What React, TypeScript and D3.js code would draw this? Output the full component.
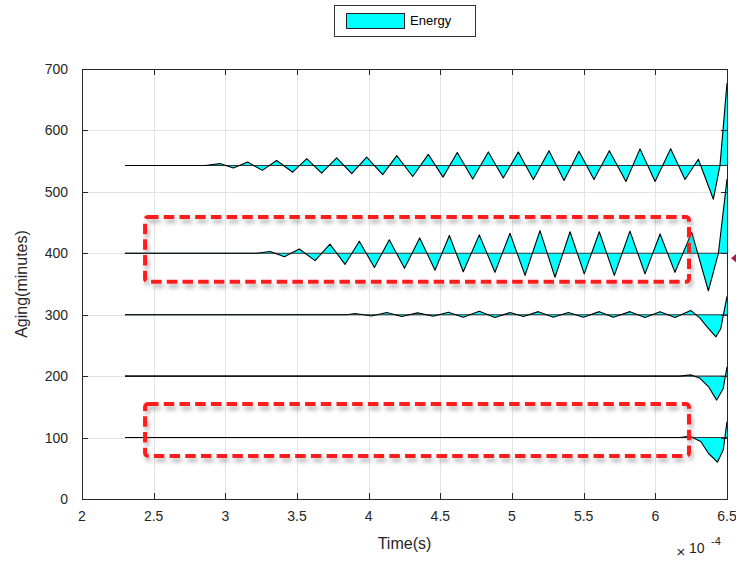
import React, { useEffect, useRef } from "react";
import * as d3 from "d3";

// axis ticks (time in units of 1e-4 s)
const xTicks = [2, 2.5, 3, 3.5, 4, 4.5, 5, 5.5, 6, 6.5];
const yTicks = [0, 100, 200, 300, 400, 500, 600, 700];

// each trace: [time, aging] vertices
const energy543: [number, number][] = [
  [2.3, 543], [2.86, 543], [2.963, 546], [3.056, 539], [3.156, 548.5], [3.258, 535],
  [3.358, 551], [3.47, 532], [3.568, 554], [3.672, 530.5], [3.777, 555.5], [3.882, 529.5],
  [3.986, 556.5], [4.098, 528], [4.196, 559], [4.307, 525], [4.416, 561], [4.519, 524],
  [4.618, 564], [4.726, 521], [4.835, 565], [4.939, 522.5], [5.044, 565], [5.149, 520],
  [5.258, 567], [5.363, 518.5], [5.467, 566], [5.572, 520], [5.679, 567], [5.795, 517],
  [5.893, 570], [5.998, 517], [6.107, 570], [6.207, 520], [6.3, 553], [6.405, 488],
  [6.451, 543], [6.5, 677],
];
const energy400: [number, number][] = [
  [2.3, 400], [3.219, 400], [3.312, 403], [3.412, 394.5], [3.516, 407], [3.626, 388],
  [3.73, 415], [3.835, 382], [3.935, 419.5], [4.04, 377], [4.144, 422], [4.25, 375.5],
  [4.356, 425], [4.463, 372.5], [4.563, 429], [4.66, 370], [4.772, 430], [4.881, 369],
  [4.986, 432.5], [5.091, 364], [5.195, 437], [5.3, 361], [5.405, 435], [5.504, 366.5],
  [5.609, 435], [5.714, 364], [5.823, 436], [5.928, 366.5], [6.033, 431.5], [6.137, 369],
  [6.254, 434], [6.37, 339], [6.44, 400], [6.5, 521],
];
const energy300: [number, number][] = [
  [2.3, 300], [3.847, 300], [3.905, 302], [4.021, 298], [4.126, 303.5], [4.231, 297],
  [4.341, 303], [4.451, 297.5], [4.556, 304], [4.66, 296], [4.772, 305.5], [4.881, 295.5],
  [4.986, 303.5], [5.079, 297], [5.184, 305], [5.288, 296], [5.393, 303.5], [5.498, 296],
  [5.609, 305], [5.707, 296], [5.823, 305], [5.928, 295.5], [6.033, 305], [6.137, 295.5],
  [6.247, 307], [6.312, 294.5], [6.358, 281], [6.423, 264], [6.456, 277], [6.5, 330],
];
const energy200: [number, number][] = [
  [2.3, 200], [6.17, 200], [6.25, 202], [6.312, 196.5], [6.37, 183], [6.428, 161],
  [6.474, 180], [6.5, 215],
];
const energy100: [number, number][] = [
  [2.3, 100], [6.17, 100], [6.24, 102], [6.317, 93.5], [6.37, 74.5], [6.433, 60],
  [6.474, 80], [6.5, 126],
];
const baselines = [543, 400, 300, 200, 100];

// red dashed highlight boxes: [t0, t1, top, bottom]
const highlights: [number, number, number, number][] = [
  [2.44, 6.235, 459, 353.5],
  [2.44, 6.235, 154.5, 70],
];

const W = 736;
const H = 563;
const margin = { top: 69, right: 9, bottom: 64, left: 82 };
const FONT = "'Liberation Sans', Arial, Helvetica, sans-serif";

const EnergyChart = () => {
  const ref = useRef<SVGSVGElement>(null);

  useEffect(() => {
    const svg = d3.select(ref.current);
    svg.selectAll("*").remove();

    const x = d3.scaleLinear().domain([2, 6.5]).range([margin.left, W - margin.right]);
    const y = d3.scaleLinear().domain([0, 700]).range([H - margin.bottom, margin.top]);
    const [x0, x1] = x.range();
    const [y0, y1] = y.range();

    const defs = svg.append("defs");
    const f = defs.append("filter").attr("id", "shadow").attr("x", "-5%").attr("y", "-20%").attr("width", "115%").attr("height", "160%");
    f.append("feDropShadow").attr("dx", 2).attr("dy", 4).attr("stdDeviation", 2.2)
      .attr("flood-color", "#777").attr("flood-opacity", 0.55);

    // grid
    const grid = svg.append("g").attr("stroke", "#e3e3e3").attr("stroke-width", 1);
    grid.selectAll(".gx").data(xTicks.slice(1, -1)).join("line")
      .attr("x1", (d) => Math.round(x(d)) + 0.5).attr("x2", (d) => Math.round(x(d)) + 0.5)
      .attr("y1", y1).attr("y2", y0);
    grid.selectAll(".gy").data(yTicks.slice(1, -1)).join("line")
      .attr("y1", (d) => Math.round(y(d)) + 0.5).attr("y2", (d) => Math.round(y(d)) + 0.5)
      .attr("x1", x0).attr("x2", x1);

    // traces
    const traces = [energy543, energy400, energy300, energy200, energy100];
    const g = svg.append("g");
    traces.forEach((pts, i) => {
      const base = baselines[i];
      const area = d3.area<[number, number]>()
        .x((d) => x(d[0])).y0(y(base)).y1((d) => y(d[1]));
      const line = d3.line<[number, number]>().x((d) => x(d[0])).y((d) => y(d[1]));
      g.append("path").attr("d", area(pts)).attr("fill", "#00ffff").attr("stroke", "none");
      g.append("line")
        .attr("x1", x(pts[0][0])).attr("x2", x(pts[pts.length - 1][0]))
        .attr("y1", y(base)).attr("y2", y(base))
        .attr("stroke", "#2b3b3b").attr("stroke-width", 1.1);
      g.append("path").attr("d", line(pts)).attr("fill", "none")
        .attr("stroke", "#000").attr("stroke-width", 1.1).attr("stroke-linejoin", "round");
    });

    // box and ticks
    const ax = svg.append("g").attr("stroke", "#262626").attr("stroke-width", 1);
    ax.append("rect").attr("x", x0 + 0.5).attr("y", y1 + 0.5)
      .attr("width", x1 - x0).attr("height", y0 - y1).attr("fill", "none");
    ax.selectAll(".tx").data(xTicks).join("g").each(function (d) {
      const xx = Math.round(x(d)) + 0.5;
      d3.select(this).append("line").attr("x1", xx).attr("x2", xx).attr("y1", y0).attr("y2", y0 - 6);
      d3.select(this).append("line").attr("x1", xx).attr("x2", xx).attr("y1", y1).attr("y2", y1 + 6);
    });
    ax.selectAll(".ty").data(yTicks).join("g").each(function (d) {
      const yy = Math.round(y(d)) + 0.5;
      d3.select(this).append("line").attr("x1", x0).attr("x2", x0 + 6).attr("y1", yy).attr("y2", yy);
      d3.select(this).append("line").attr("x1", x1).attr("x2", x1 - 6).attr("y1", yy).attr("y2", yy);
    });

    const labels = svg.append("g").attr("font-family", FONT).attr("fill", "#262626");
    labels.selectAll(".lx").data(xTicks).join("text")
      .attr("x", (d) => x(d)).attr("y", y0 + 22).attr("text-anchor", "middle")
      .attr("font-size", 14).text((d) => String(d));
    labels.selectAll(".ly").data(yTicks).join("text")
      .attr("x", x0 - 14).attr("y", (d) => y(d) + 5).attr("text-anchor", "end")
      .attr("font-size", 14).text((d) => String(d));
    labels.append("text").attr("x", (x0 + x1) / 2).attr("y", y0 + 50)
      .attr("text-anchor", "middle").attr("font-size", 16).text("Time(s)");
    labels.append("text")
      .attr("transform", `translate(27,${(y0 + y1) / 2}) rotate(-90)`)
      .attr("text-anchor", "middle").attr("font-size", 16).text("Aging(minutes)");
    labels.append("text").attr("x", 681).attr("y", 557).attr("text-anchor", "middle")
      .attr("font-size", 15).text("\u00d7");
    labels.append("text").attr("x", 689).attr("y", 553).attr("font-size", 14).text("10");
    labels.append("text").attr("x", 711).attr("y", 545).attr("font-size", 11).text("-4");

    // highlight boxes
    svg.append("g").selectAll("rect").data(highlights).join("rect")
      .attr("x", (d) => x(d[0])).attr("y", (d) => y(d[2]))
      .attr("width", (d) => x(d[1]) - x(d[0])).attr("height", (d) => y(d[3]) - y(d[2]))
      .attr("rx", 3).attr("fill", "none").attr("stroke", "#ff1a1a").attr("stroke-width", 4)
      .attr("stroke-dasharray", "10.5 5.2").attr("filter", "url(#shadow)");

    // cut-off marker at right edge
    svg.append("path")
      .attr("d", `M${x1 + 4},${y(392)} L${x1 + 10},${y(392) - 5} L${x1 + 10},${y(392) + 5} Z`)
      .attr("fill", "#b0174f");

    // legend
    const lg = svg.append("g").attr("font-family", FONT);
    lg.append("rect").attr("x", 334.5).attr("y", 5.5).attr("width", 141).attr("height", 31)
      .attr("fill", "#fff").attr("stroke", "#333");
    lg.append("rect").attr("x", 346.5).attr("y", 13.5).attr("width", 58).attr("height", 15)
      .attr("fill", "#00ffff").attr("stroke", "#222");
    lg.append("text").attr("x", 410).attr("y", 25).attr("font-size", 13).attr("fill", "#000").text("Energy");
  }, []);

  return (
    <svg ref={ref} width={W} height={H}
      style={{ position: "absolute", left: 0, top: 0, background: "#fff" }} />
  );
};

export default function App() {
  return <EnergyChart />;
}
